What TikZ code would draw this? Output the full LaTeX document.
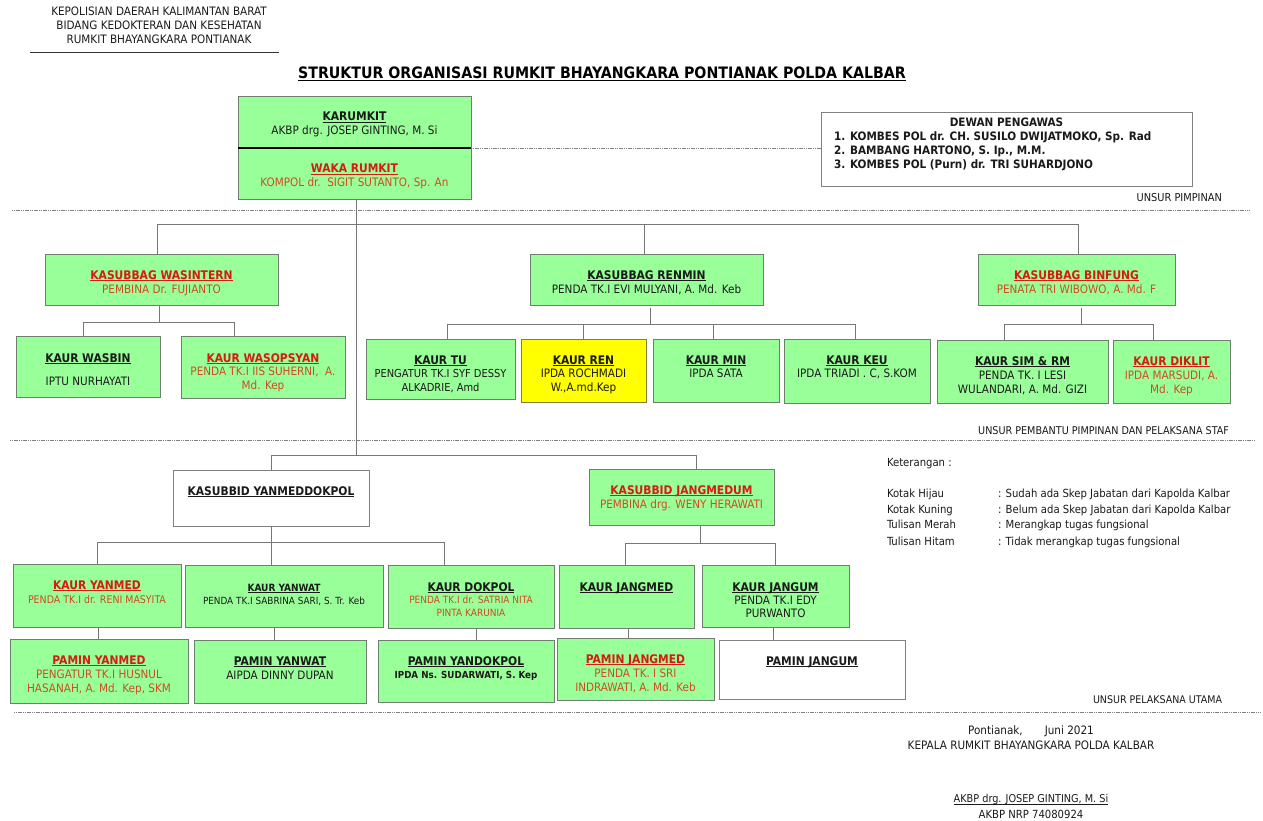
\documentclass[tikz,border=0pt]{standalone}
\usepackage{fontspec}
\setmainfont{DejaVu Sans Condensed}
\definecolor{boxgreen}{HTML}{99FF99}
\definecolor{boxyellow}{HTML}{FFFF00}
\definecolor{edgegray}{HTML}{6F7F6F}
\definecolor{linegray}{HTML}{777777}
\definecolor{redtitle}{HTML}{D81A10}
\definecolor{redtext}{HTML}{D04A20}
\definecolor{inktext}{HTML}{1A1A1A}
\newcommand{\bx}[9][14]{%
  \pgfmathsetmacro{\bxw}{#5-#3}\pgfmathsetmacro{\bxh}{#6-#4}%
  \pgfmathsetmacro{\bxcx}{(#3+#5)/2}\pgfmathsetmacro{\bxcy}{(#4+#6)/2}%
  \node[#7,minimum width=\bxw pt,minimum height=\bxh pt] (#2) at (\bxcx,\bxcy)
    {\parbox[c][\bxh pt][t]{\bxw pt}{\baselineskip=#1pt\lineskiplimit=-20pt\centering\rule{0pt}{#8pt}#9}};}
\newsavebox{\ulsave}
\newcommand{\ulin}[2][1.9]{\sbox{\ulsave}{#2}\rlap{\rule[-#1pt]{\wd\ulsave}{0.9pt}}\usebox{\ulsave}}
\newcommand{\ttl}[1]{\ulin{\fontsize{11.9}{14}\selectfont\textbf{#1}}}
\newcommand{\sm}[2]{{\fontsize{#1}{12}\selectfont #2}}
\begin{document}
\begin{tikzpicture}[x=1pt,y=-1pt,
  base/.style={font=\fontsize{11.6}{14}\selectfont,text=inktext},
  gbox/.style={base,draw=edgegray,line width=0.9pt,fill=boxgreen,inner sep=0pt,outer sep=0pt},
  ybox/.style={gbox,fill=boxyellow,draw=black!50!boxyellow!60!gray},
  wbox/.style={gbox,fill=white,draw=gray},
  rbox/.style={gbox,text=redtext},
  plain/.style={base,inner sep=0pt,outer sep=0pt},
  conn/.style={draw=linegray,line width=1pt},
  sep/.style={draw=gray,line width=1pt,dash pattern=on 1.2pt off 0.6pt},
  lnk/.style={draw=gray,line width=0.8pt,dash pattern=on 1.2pt off 0.6pt}]
\useasboundingbox (0,0) rectangle (1263,821);
\fill[white] (0,0) rectangle (1263,821);

% header
\node[plain,align=center,anchor=north] (hdr) at (159,7) {\baselineskip=14.2pt KEPOLISIAN DAERAH KALIMANTAN BARAT\\BIDANG KEDOKTERAN DAN KESEHATAN\\RUMKIT BHAYANGKARA PONTIANAK};
\coordinate (hl) at (30,52); \coordinate (hr) at (279,52);
\draw[draw=black!80,line width=0.8pt] (hl) -- (hr);
\node[plain,font=\fontsize{15.75}{18}\selectfont\bfseries,text=black] (title) at (602,74) {\ulin[2.4]{STRUKTUR ORGANISASI RUMKIT BHAYANGKARA PONTIANAK POLDA KALBAR}};

% separators
\coordinate (s1a) at (12,210.5); \coordinate (s1b) at (1250,210.5);
\coordinate (s2a) at (10,440); \coordinate (s2b) at (1255,440);
\coordinate (s3a) at (14,712.5); \coordinate (s3b) at (1260,712.5);
\draw[sep] (s1a) -- (s1b);
\draw[sep] (s2a) -- (s2b);
\draw[sep] (s3a) -- (s3b);

% top boxes
\bx{karumkit}{238}{96}{471}{148}{gbox}{25}{\ttl{KARUMKIT}\\AKBP drg. JOSEP GINTING, M. Si}
\bx{waka}{238}{148}{471}{199}{rbox}{25}{\textcolor{redtitle}{\ttl{WAKA RUMKIT}}\\KOMPOL dr.\ \ SIGIT SUTANTO, Sp. An}
\draw[black,line width=1.3pt] (karumkit.south west) -- (karumkit.south east);
\bx{dewan}{821}{112}{1192}{186}{wbox}{15}{\textbf{DEWAN PENGAWAS}\\\raggedright\hspace*{13pt}\textbf{1. KOMBES POL dr. CH. SUSILO DWIJATMOKO, Sp. Rad}\\\hspace*{13pt}\textbf{2. BAMBANG HARTONO, S. Ip., M.M.}\\\hspace*{13pt}\textbf{3. KOMBES POL (Purn) dr. TRI SUHARDJONO}}
\draw[lnk] (karumkit.south east) -- (dewan.west |- karumkit.south east);
\node[plain,anchor=east,font=\fontsize{10.9}{14}\selectfont] (u1) at (1222,198) {UNSUR PIMPINAN};

% level 2
\bx{wasintern}{45}{254}{278}{305}{rbox}{25}{\textcolor{redtitle}{\ttl{KASUBBAG WASINTERN}}\\PEMBINA Dr. FUJIANTO}
\bx{renmin}{530}{254}{763}{305}{gbox}{25}{\ttl{KASUBBAG RENMIN}\\PENDA TK.I EVI MULYANI, A. Md. Keb}
\bx{binfung}{978}{254}{1175}{305.5}{rbox}{25}{\textcolor{redtitle}{\ttl{KASUBBAG BINFUNG}}\\PENATA TRI WIBOWO, A. Md. F}

\bx{wasbin}{16}{336}{160}{397}{gbox}{26}{\ttl{KAUR WASBIN}\\[9pt]IPTU NURHAYATI}
\bx[13.5]{wasopsyan}{181}{336}{345}{398}{rbox}{26}{\textcolor{redtitle}{\ttl{KAUR WASOPSYAN}}\\PENDA TK.I IIS SUHERNI,\ \ A.\\Md. Kep}
\bx[13.5]{kaurtu}{366}{339}{515}{399}{gbox}{25}{\ttl{KAUR TU}\\\sm{11}{PENGATUR TK.I SYF DESSY}\\\sm{11}{ALKADRIE, Amd}}
\bx[13.5]{kaurren}{521}{339}{646}{402}{ybox}{25}{\ttl{KAUR REN}\\IPDA ROCHMADI\\W.,A.md.Kep}
\bx[13.5]{kaurmin}{653}{339}{779}{402}{gbox}{25}{\ttl{KAUR MIN}\\IPDA SATA}
\bx[13.5]{kaurkeu}{784}{339}{930}{403}{gbox}{25}{\ttl{KAUR KEU}\\IPDA TRIADI . C, S.KOM}
\bx[14]{kaursim}{937}{340}{1108}{403}{gbox}{25}{\ttl{KAUR SIM \& RM}\\PENDA TK. I LESI\\WULANDARI, A. Md. GIZI}
\bx[14]{diklit}{1113}{340}{1230}{403}{rbox}{25}{\textcolor{redtitle}{\ttl{KAUR DIKLIT}}\\IPDA MARSUDI, A.\\Md. Kep}
\node[plain,anchor=east,font=\fontsize{10.7}{14}\selectfont] (u2) at (1229,431) {UNSUR PEMBANTU PIMPINAN DAN PELAKSANA STAF};

% level 3
\bx{yanmeddok}{173}{470}{369}{526}{wbox}{25}{\ttl{KASUBBID YANMEDDOKPOL}}
\bx{jangmedum}{589}{469}{774}{525}{rbox}{25}{\textcolor{redtitle}{\ttl{KASUBBID JANGMEDUM}}\\PEMBINA drg. WENY HERAWATI}

\bx{kyanmed}{13}{564}{181}{627}{rbox}{25}{\textcolor{redtitle}{\ttl{KAUR YANMED}}\\\sm{10.5}{PENDA TK.I dr. RENI MASYITA}}
\bx[13]{kyanwat}{185}{565}{383}{627}{gbox}{26}{\ulin{\sm{10}{\textbf{KAUR YANWAT}}}\\\sm{9.85}{PENDA TK.I SABRINA SARI, S. Tr. Keb}}
\bx[12.5]{kdokpol}{388}{565}{554}{628}{rbox}{26}{\textcolor{inktext}{\ttl{KAUR DOKPOL}}\\\sm{10}{PENDA TK.I dr. SATRIA NITA}\\\sm{10}{PINTA KARUNIA}}
\bx{kjangmed}{559}{565}{694}{628}{gbox}{26}{\ttl{KAUR JANGMED}}
\bx[13]{kjangum}{702}{565}{849}{627}{gbox}{26}{\ttl{KAUR JANGUM}\\PENDA TK.I EDY\\PURWANTO}

\bx{pyanmed}{10}{639}{188}{703}{rbox}{25}{\textcolor{redtitle}{\ttl{PAMIN YANMED}}\\PENGATUR TK.I HUSNUL\\HASANAH, A. Md. Kep, SKM}
\bx{pyanwat}{194}{640}{366}{703}{gbox}{25}{\ttl{PAMIN YANWAT}\\AIPDA DINNY DUPAN}
\bx[13.5]{pyandok}{378}{640}{554}{702}{gbox}{25}{\ttl{PAMIN YANDOKPOL}\\\sm{9.7}{\textbf{IPDA Ns. SUDARWATI, S. Kep}}}
\bx{pjangmed}{557}{638}{714}{700}{rbox}{25}{\textcolor{redtitle}{\ttl{PAMIN JANGMED}}\\PENDA TK. I SRI\\INDRAWATI, A. Md. Keb}
\bx{pjangum}{719}{640}{905}{699}{wbox}{25}{\ttl{PAMIN JANGUM}}

% connectors: main trunk and top bus
\coordinate (trunk) at (356,455);
\draw[conn] (waka.south -| trunk) -- (trunk);
\coordinate (b1l) at (157,224); \coordinate (b1m) at (644,224); \coordinate (b1r) at (1078,224);
\draw[conn] (wasintern.north -| b1l) |- (b1r) -- (binfung.north -| b1r);
\draw[conn] (b1m) -- (renmin.north -| b1m);

% wasintern children
\coordinate (b2) at (159,322); \coordinate (b2l) at (83,322); \coordinate (b2r) at (234,322);
\draw[conn] (wasintern.south -| b2) -- (b2);
\draw[conn] (wasbin.north -| b2l) |- (b2r) -- (wasopsyan.north -| b2r);

% renmin children
\coordinate (b3) at (650,324); \coordinate (b3t) at (650,308);
\coordinate (b3a) at (447,324); \coordinate (b3b) at (583,324); \coordinate (b3c) at (713,324); \coordinate (b3d) at (855,324);
\draw[conn] (b3t) -- (b3);
\draw[conn] (kaurtu.north -| b3a) |- (b3d) -- (kaurkeu.north -| b3d);
\draw[conn] (b3b) -- (kaurren.north -| b3b);
\draw[conn] (b3c) -- (kaurmin.north -| b3c);

% binfung children
\coordinate (b4t) at (1081,308); \coordinate (b4) at (1081,324);
\coordinate (b4l) at (1004,324); \coordinate (b4r) at (1153,324);
\draw[conn] (b4t) -- (b4);
\draw[conn] (kaursim.north -| b4l) |- (b4r) -- (diklit.north -| b4r);

% lower bus
\coordinate (b5l) at (271,455); \coordinate (b5r) at (696,455);
\draw[conn] (yanmeddok.north -| b5l) |- (b5r) -- (jangmedum.north -| b5r);

% yanmeddokpol children
\coordinate (b6) at (271,542); \coordinate (b6l) at (97,542); \coordinate (b6r) at (444,542);
\draw[conn] (yanmeddok.south -| b6) -- (b6);
\draw[conn] (kyanmed.north -| b6l) |- (b6r) -- (kdokpol.north -| b6r);
\draw[conn] (b6) -- (kyanwat.north -| b6);

% jangmedum children
\coordinate (b7) at (700,543); \coordinate (b7l) at (625,543); \coordinate (b7r) at (775,543);
\draw[conn] (jangmedum.south -| b7) -- (b7);
\draw[conn] (kjangmed.north -| b7l) |- (b7r) -- (kjangum.north -| b7r);

% kaur to pamin
\coordinate (c1) at (98,630); \coordinate (c2) at (274,630); \coordinate (c3) at (476,630); \coordinate (c4) at (628,630); \coordinate (c5) at (773,630);
\draw[conn] (kyanmed.south -| c1) -- (pyanmed.north -| c1);
\draw[conn] (kyanwat.south -| c2) -- (pyanwat.north -| c2);
\draw[conn] (kdokpol.south -| c3) -- (pyandok.north -| c3);
\draw[conn] (kjangmed.south -| c4) -- (pjangmed.north -| c4);
\draw[conn] (kjangum.south -| c5) -- (pjangum.north -| c5);

% legend
\tikzset{lg/.style={plain,anchor=base west,font=\fontsize{11.2}{14}\selectfont}}
\node[lg] (k0) at (887,466) {Keterangan :};
\node[lg] (k1) at (887,497) {Kotak Hijau};
\node[lg] (k2) at (887,513) {Kotak Kuning};
\node[lg] (k3) at (887,528) {Tulisan Merah};
\node[lg] (k4) at (887,545) {Tulisan Hitam};
\node[lg] (v1) at (998,497) {: Sudah ada Skep Jabatan dari Kapolda Kalbar};
\node[lg] (v2) at (998,513) {: Belum ada Skep Jabatan dari Kapolda Kalbar};
\node[lg] (v3) at (998,528) {: Merangkap tugas fungsional};
\node[lg] (v4) at (998,545) {: Tidak merangkap tugas fungsional};

% footer
\node[plain,anchor=east,font=\fontsize{10.55}{14}\selectfont] (u3) at (1222,700) {UNSUR PELAKSANA UTAMA};
\node[plain] (f1) at (1031,731) {Pontianak,\hspace{22pt}Juni 2021};
\node[plain] (f2) at (1031,745) {KEPALA RUMKIT BHAYANGKARA POLDA KALBAR};
\node[plain,font=\fontsize{10.8}{14}\selectfont] (f3) at (1031,800) {\ulin{AKBP drg. JOSEP GINTING, M. Si}};
\node[plain,font=\fontsize{11.2}{14}\selectfont] (f4) at (1031,814) {AKBP NRP 74080924};
\end{tikzpicture}
\end{document}
